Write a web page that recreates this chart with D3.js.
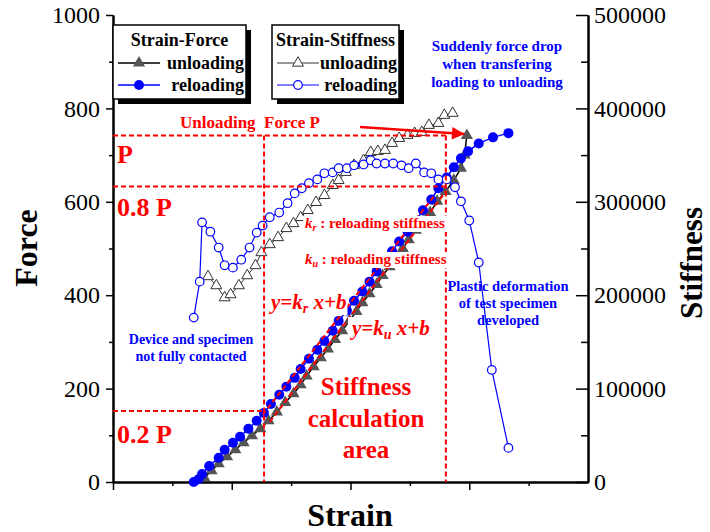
<!DOCTYPE html>
<html>
<head>
<meta charset="utf-8">
<script src="https://cdn.jsdelivr.net/npm/d3@7"></script>
<style>
  body { margin: 0; background: #fff; }
  svg { font-family: "Liberation Serif", "Times New Roman", serif; }
</style>
</head>
<body>
<div class="canvas"></div>
<script>
// ---- data ----
const reloadForceStrain = [0.68,0.72,0.75,0.81,0.89,0.94,1.01,1.07,1.14,1.21,1.27,1.33,1.40,1.46,1.53,1.58,1.65,1.72,1.78,1.85,1.90,1.97,2.03,2.10,2.16,2.22,2.28,2.35,2.41,2.48,2.54,2.61,2.68,2.74,2.81,2.87,2.93,2.99,3.08,3.20,3.33];
const reloadForce = [0,6,17,34,52,69,84,97,114,131,148,167,187,204,223,242,264,283,302,324,345,367,388,408,429,451,472,494,515,536,556,582,605,629,652,674,693,708,725,738,747];

const unloadForceStrain = [0.77,0.83,0.89,0.96,1.03,1.10,1.17,1.24,1.31,1.38,1.45,1.52,1.58,1.63,1.69,1.75,1.81,1.87,1.93,1.99,2.05,2.10,2.16,2.22,2.27,2.33,2.38,2.44,2.49,2.55,2.61,2.67,2.73,2.80,2.87,2.93,2.96,2.98];
const unloadForce = [9,24,39,54,69,84,99,114,131,150,170,189,208,227,247,266,285,305,324,345,365,384,403,423,442,461,481,500,519,539,558,577,601,622,646,672,700,742];

const reloadStiffStrain = [0.68,0.73,0.75,0.82,0.89,0.94,1.01,1.08,1.15,1.21,1.26,1.32,1.40,1.47,1.53,1.59,1.65,1.72,1.78,1.85,1.90,1.97,2.03,2.11,2.17,2.22,2.29,2.36,2.43,2.49,2.55,2.62,2.68,2.74,2.81,2.88,2.93,3.00,3.08,3.19,3.33];
const reloadStiff = [176000,214500,278000,268000,251000,232000,229500,238000,251000,267000,274500,283500,288500,298500,309000,314500,320000,324000,330500,331500,336000,336000,339000,340000,344500,341000,341000,341000,339000,336000,341000,331500,330500,324000,324000,315500,300500,280000,235000,120000,36500];

const unloadStiffStrain = [0.80,0.87,0.94,0.99,1.06,1.13,1.20,1.25,1.32,1.39,1.46,1.52,1.58,1.64,1.71,1.78,1.85,1.90,1.96,2.03,2.11,2.17,2.23,2.29,2.35,2.41,2.48,2.54,2.60,2.66,2.74,2.79,2.86];
const unloadStiff = [220000,210300,197400,200700,210300,221000,231800,245700,254300,261800,271500,276800,283300,290800,299400,306900,317600,323000,331600,339100,344400,353000,354100,355200,362700,368000,371300,373400,374500,382000,384100,392700,394900];

// fitted stiffness lines (two end points each: strain, force)
const krLine = [[1.26,144],[2.70,611]];
const kuLine = [[1.32,129],[2.81,624]];

// reference levels: P, 0.8 P (as drawn), 0.2 P and the calc window bounds
const forceLevels = [742, 633, 152];
const calcWindow = [1.272, 2.803];

const forceTicks = [0,200,400,600,800,1000];
const forceMinor = [100,300,500,700,900];
const stiffTicks = [0,100000,200000,300000,400000,500000];
const stiffMinor = [50000,150000,250000,350000,450000];
const strainTicks = [0,1,2,3];
const strainMinor = [0.5,1.5,2.5,3.5];

// ---- layout ----
const margin = { top: 15, right: 122, bottom: 50, left: 113 };
const graphWidth = 710 - margin.left - margin.right;
const graphHeight = 532 - margin.top - margin.bottom;

const BLUE = '#0000ff';
const RED = '#ff0000';
const GRAY = '#555555';

const svg = d3.select('.canvas')
  .append('svg')
  .attr('width', 710)
  .attr('height', 532);

const graph = svg.append('g')
  .attr('transform', `translate(${margin.left}, ${margin.top})`);

const x = d3.scaleLinear().domain([0, 4]).range([0, graphWidth]);
const yF = d3.scaleLinear().domain([0, 1000]).range([graphHeight, 0]);
const yK = d3.scaleLinear().domain([0, 500000]).range([graphHeight, 0]);

const tri = d3.symbol().type(d3.symbolTriangle);
const plain = d3.format('d');

// ---- axes ----
function styleAxis(g, size) {
  g.select('.domain').attr('stroke', '#000').attr('stroke-width', 2);
  g.selectAll('.tick line').attr('stroke', '#000').attr('stroke-width', 1.5);
  g.selectAll('.tick text')
    .attr('fill', '#000')
    .style('font-family', '"Liberation Serif", serif')
    .style('font-size', size + 'px');
}

graph.append('g')
  .call(d3.axisLeft(yF).tickValues(forceMinor).tickSize(4).tickFormat('').tickSizeOuter(0))
  .call(g => styleAxis(g, 24));
graph.append('g')
  .call(d3.axisLeft(yF).tickValues(forceTicks).tickFormat(plain).tickSize(7).tickPadding(6).tickSizeOuter(0))
  .call(g => styleAxis(g, 24));

const rightG = graph.append('g').attr('transform', `translate(${graphWidth},0)`);
rightG.append('g')
  .call(d3.axisRight(yK).tickValues(stiffMinor).tickSizeInner(-7).tickFormat('').tickSizeOuter(0))
  .call(g => styleAxis(g, 24));
rightG.append('g')
  .call(d3.axisRight(yK).tickValues(stiffTicks).tickFormat(plain).tickSizeInner(-12).tickPadding(6).tickSizeOuter(0))
  .call(g => styleAxis(g, 24));

const bottomG = graph.append('g').attr('transform', `translate(0,${graphHeight})`);
bottomG.append('g')
  .call(d3.axisBottom(x).tickValues(strainMinor).tickSize(4).tickFormat('').tickSizeOuter(0))
  .call(g => styleAxis(g, 24));
bottomG.append('g')
  .call(d3.axisBottom(x).tickValues(strainTicks).tickSize(8).tickFormat('').tickSizeOuter(0))
  .call(g => styleAxis(g, 24));

// axis titles
svg.append('text')
  .attr('transform', 'translate(37,248) rotate(-90)')
  .attr('text-anchor', 'middle')
  .style('font-size', '32px').style('font-weight', 'bold')
  .text('Force');
svg.append('text')
  .attr('transform', 'translate(702,263) rotate(-90)')
  .attr('text-anchor', 'middle')
  .style('font-size', '31px').style('font-weight', 'bold')
  .text('Stiffness');
svg.append('text')
  .attr('x', 350).attr('y', 526)
  .attr('text-anchor', 'middle')
  .style('font-size', '32px').style('font-weight', 'bold')
  .text('Strain');

// ---- series ----
const unloadF = d3.zip(unloadForceStrain, unloadForce);
const reloadF = d3.zip(reloadForceStrain, reloadForce);
const unloadK = d3.zip(unloadStiffStrain, unloadStiff);
const reloadK = d3.zip(reloadStiffStrain, reloadStiff);

const lineF = d3.line().x(d => x(d[0])).y(d => yF(d[1]));
const lineK = d3.line().x(d => x(d[0])).y(d => yK(d[1]));

// force: unloading
graph.append('path')
  .datum(unloadF)
  .attr('fill', 'none').attr('stroke', '#000').attr('stroke-width', 1.5)
  .attr('d', lineF);
graph.append('g').selectAll('path')
  .data(unloadF)
  .enter().append('path')
    .attr('d', tri.size(64))
    .attr('transform', d => `translate(${x(d[0])},${yF(d[1])})`)
    .attr('fill', GRAY);

// force: reloading
graph.append('path')
  .datum(reloadF)
  .attr('fill', 'none').attr('stroke', BLUE).attr('stroke-width', 1.5)
  .attr('d', lineF);
graph.append('g').selectAll('circle')
  .data(reloadF)
  .enter().append('circle')
    .attr('cx', d => x(d[0]))
    .attr('cy', d => yF(d[1]))
    .attr('r', 5)
    .attr('fill', BLUE);

// stiffness: unloading
graph.append('path')
  .datum(unloadK)
  .attr('fill', 'none').attr('stroke', '#333').attr('stroke-width', 1)
  .attr('d', lineK);
graph.append('g').selectAll('path')
  .data(unloadK)
  .enter().append('path')
    .attr('d', tri.size(52))
    .attr('transform', d => `translate(${x(d[0])},${yK(d[1])})`)
    .attr('fill', '#fff')
    .attr('stroke', '#333')
    .attr('stroke-width', 1);

// stiffness: reloading
graph.append('path')
  .datum(reloadK)
  .attr('fill', 'none').attr('stroke', BLUE).attr('stroke-width', 1.2)
  .attr('d', lineK);
graph.append('g').selectAll('circle')
  .data(reloadK)
  .enter().append('circle')
    .attr('cx', d => x(d[0]))
    .attr('cy', d => yK(d[1]))
    .attr('r', 4.3)
    .attr('fill', '#fff')
    .attr('stroke', BLUE)
    .attr('stroke-width', 1.2);

// ---- reference dashed lines ----
const refG = graph.append('g')
  .attr('stroke', RED).attr('stroke-width', 2).attr('stroke-dasharray', '5,3').attr('fill', 'none');
refG.append('line')
  .attr('x1', x(0)).attr('x2', x(calcWindow[1]))
  .attr('y1', yF(forceLevels[0])).attr('y2', yF(forceLevels[0]));
refG.append('line')
  .attr('x1', x(0)).attr('x2', x(calcWindow[1]))
  .attr('y1', yF(forceLevels[1])).attr('y2', yF(forceLevels[1]));
refG.append('line')
  .attr('x1', x(0)).attr('x2', x(calcWindow[0]))
  .attr('y1', yF(forceLevels[2])).attr('y2', yF(forceLevels[2]));
calcWindow.forEach(s => {
  refG.append('line')
    .attr('x1', x(s)).attr('x2', x(s))
    .attr('y1', yF(forceLevels[0])).attr('y2', yF(0));
});

// fitted lines
[krLine, kuLine].forEach(l => {
  graph.append('path')
    .datum(l)
    .attr('fill', 'none').attr('stroke', RED).attr('stroke-width', 2)
    .attr('stroke-dasharray', '5,3')
    .attr('d', lineF);
});

// arrow to P
svg.append('defs').append('marker')
  .attr('id', 'arrowP')
  .attr('viewBox', '0 0 10 10')
  .attr('refX', 10).attr('refY', 5)
  .attr('markerWidth', 6).attr('markerHeight', 5)
  .attr('markerUnits', 'strokeWidth')
  .attr('orient', 'auto')
  .append('path')
    .attr('d', 'M 0 0 L 10 5 L 0 10 z')
    .attr('fill', RED);
graph.append('line')
  .attr('x1', x(2.08)).attr('y1', yF(760))
  .attr('x2', x(2.96)).attr('y2', yF(745))
  .attr('stroke', RED).attr('stroke-width', 2.5)
  .attr('marker-end', 'url(#arrowP)');

// ---- annotations ----
function addText(parent, xPos, yPos, str, size, color, anchor) {
  return parent.append('text')
    .attr('x', xPos).attr('y', yPos)
    .attr('text-anchor', anchor || 'start')
    .attr('fill', color)
    .style('font-size', size + 'px')
    .style('font-weight', 'bold')
    .text(str);
}
function whiteBehind(t, pad) {
  const b = t.node().getBBox();
  svg.insert('rect', () => t.node())
    .attr('x', b.x - pad).attr('y', b.y + 1)
    .attr('width', b.width + 2 * pad).attr('height', b.height - 2)
    .attr('fill', '#fff');
}

addText(svg, 180, 128, 'Unloading\u00a0 Force P', 17, RED);
addText(svg, 117, 163, 'P', 26, RED);
addText(svg, 117, 216, '0.8 P', 26, RED);
addText(svg, 117, 443, '0.2 P', 26, RED);

['Stiffness', 'calculation', 'area'].forEach((s, i) => {
  addText(svg, 366, 395 + i * 31.5, s, 25, RED, 'middle');
});

['Suddenly force drop', 'when transfering', 'loading to unloading'].forEach((s, i) => {
  addText(svg, 497, 51 + i * 18, s, 15, BLUE, 'middle');
});
['Device and specimen', 'not fully contacted'].forEach((s, i) => {
  addText(svg, 191, 344 + i * 17, s, 14, BLUE, 'middle');
});
['Plastic deformation', 'of test specimen', 'developed'].forEach((s, i) => {
  addText(svg, 508, 291 + i * 17, s, 14.5, BLUE, 'middle');
});

// k labels with subscripts
function kText(xPos, yPos, sub) {
  const t = svg.append('text')
    .attr('x', xPos).attr('y', yPos)
    .attr('fill', RED)
    .style('font-size', '15px').style('font-weight', 'bold');
  t.append('tspan').style('font-style', 'italic').text('k');
  t.append('tspan').style('font-style', 'italic').style('font-size', '10px').attr('dy', 3).text(sub);
  t.append('tspan').attr('dy', -3).text(' : reloading stiffness');
  whiteBehind(t, 2);
}
kText(305, 228, 'r');
kText(305, 264, 'u');

function fitText(xPos, yPos, sub) {
  const t = svg.append('text')
    .attr('x', xPos).attr('y', yPos)
    .attr('fill', RED)
    .style('font-size', '21px').style('font-weight', 'bold').style('font-style', 'italic');
  t.append('tspan').text('y=k');
  t.append('tspan').style('font-size', '14px').attr('dy', 4).text(sub);
  t.append('tspan').attr('dy', -4).text(' x+b');
  whiteBehind(t, 1);
}
fitText(271, 309, 'r');
fitText(352, 335, 'u');

// ---- legends ----
function legendBox(bx, bw, title, items) {
  const g = svg.append('g');
  g.append('rect').attr('x', bx + 5).attr('y', 30).attr('width', bw).attr('height', 74).attr('fill', '#000');
  g.append('rect').attr('x', bx).attr('y', 25).attr('width', bw).attr('height', 74)
    .attr('fill', '#fff').attr('stroke', '#000').attr('stroke-width', 1.5);
  addText(g, bx + bw / 2, 46, title, 18, '#000', 'middle');
  items.forEach((it, i) => {
    const cy = 63 + i * 22;
    g.append('line')
      .attr('x1', bx + 5).attr('x2', bx + 47)
      .attr('y1', cy).attr('y2', cy)
      .attr('stroke', it.stroke).attr('stroke-width', it.lw);
    const mx = bx + 26;
    if (it.shape === 'tri') {
      g.append('path').attr('d', tri.size(it.size))
        .attr('transform', `translate(${mx},${cy})`)
        .attr('fill', it.fill).attr('stroke', it.mstroke).attr('stroke-width', 1);
    } else {
      g.append('circle').attr('cx', mx).attr('cy', cy).attr('r', it.r)
        .attr('fill', it.fill).attr('stroke', it.mstroke).attr('stroke-width', 1.2);
    }
    addText(g, bx + bw - 2, cy + 6, it.label, 18, '#000', 'end');
  });
}

legendBox(113, 133, 'Strain-Force', [
  { label: 'unloading', stroke: '#000', lw: 1.5, shape: 'tri', size: 64, fill: GRAY, mstroke: 'none' },
  { label: 'reloading', stroke: BLUE, lw: 1.5, shape: 'circle', r: 5, fill: BLUE, mstroke: 'none' }
]);
legendBox(272, 127, 'Strain-Stiffness', [
  { label: 'unloading', stroke: '#333', lw: 1, shape: 'tri', size: 52, fill: '#fff', mstroke: '#333' },
  { label: 'reloading', stroke: BLUE, lw: 1.2, shape: 'circle', r: 4.3, fill: '#fff', mstroke: BLUE }
]);
</script>
</body>
</html>
